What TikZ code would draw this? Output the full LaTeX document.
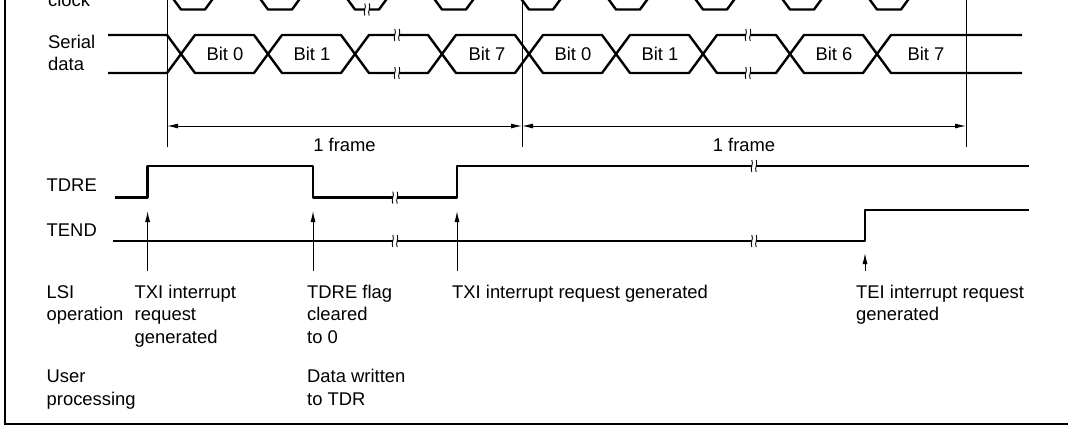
\documentclass[tikz,border=0pt]{standalone}
\usepackage{fontspec}
\setmainfont{Liberation Sans}
\usetikzlibrary{arrows.meta}

\tikzset{
  sig/.style={line width=2.4pt, line join=bevel},
  guide/.style={line width=1pt},
  evt/.style={line width=1pt, -{Latex[length=11pt,width=5pt]}},
  dim/.style={line width=1pt, {Latex[length=11pt,width=5pt]}-{Latex[length=11pt,width=5pt]}},
  lbl/.style={inner sep=0pt, anchor=base west, align=left, font=\fontsize{18.4}{22.5}\selectfont},
  bitlbl/.style={inner sep=0pt, font=\fontsize{18.4}{22.5}\selectfont},
  pics/brk/.style={code={
    \fill[white] (-2.2,-6) rectangle (2.2,6);
    \draw[line width=0.9pt] (-2.2,-6) .. controls (-0.2,-2) and (-4.2,2) .. (-2.2,6);
    \draw[line width=0.9pt] (2.2,-6) .. controls (4.2,-2) and (0.2,2) .. (2.2,6);
  }}
}

\begin{document}
\begin{tikzpicture}[x=1pt,y=-1pt]
  \useasboundingbox (0,0) rectangle (1068,426);
  \clip (0,0) rectangle (1068,426);

  % frame of the figure
  \draw[line width=2pt] (5,-5) -- (5,423.5) -- (1075,423.5);

  % labels on the left (base = last line)
  \node[lbl] (lclock) at (48,6) {clock};
  \node[lbl] (lserial) at (48,70.5) {Serial\\data};
  \node[lbl] (ltdre) at (46.5,191) {TDRE};
  \node[lbl] (ltend) at (46.5,236) {TEND};
  \node[lbl] (llsi) at (46.5,320.5) {LSI\\operation};
  \node[lbl] (luser) at (46.5,405) {User\\processing};

  % serial clock
  \draw[sig] (108,-30) \foreach \c in {193,280,...,889} {
      -- (\c-41,-30) -- (\c-12,9.5) -- (\c+12,9.5) -- (\c+41,-30) } -- (1022,-30);
  \pic at (367,9.5) {brk};

  % serial data
  \draw[sig] (108,35) \foreach \c/\ya/\yb in {181/35/73,268/73/35,355/35/73,442/73/35,
      529/35/73,616/73/35,703/35/73,790/73/35,877/35/73} {
      -- (\c-14,\ya) -- (\c+14,\yb) } -- (1022,73);
  \draw[sig] (108,73) \foreach \c/\ya/\yb in {181/73/35,268/35/73,355/73/35,442/35/73,
      529/73/35,616/35/73,703/73/35,790/35/73,877/73/35} {
      -- (\c-14,\ya) -- (\c+14,\yb) } -- (1022,35);
  \foreach \x/\y in {397/35,397/73,748/35,748/73} \pic at (\x,\y) {brk};

  \node[bitlbl] (b0) at (225,54) {Bit 0};
  \node[bitlbl] (b1) at (312,54) {Bit 1};
  \node[bitlbl] (b7) at (487,54) {Bit 7};
  \node[bitlbl] (b0n) at (573,54) {Bit 0};
  \node[bitlbl] (b1n) at (660,54) {Bit 1};
  \node[bitlbl] (b6n) at (834,54) {Bit 6};
  \node[bitlbl] (b7n) at (926,54) {Bit 7};

  % frame markers
  \coordinate (m0t) at (167,-5);   \coordinate (m0b) at (167,147);
  \coordinate (m1t) at (522,-5);   \coordinate (m1b) at (522,147);
  \coordinate (m2t) at (966,-5);   \coordinate (m2b) at (966,147);
  \draw[guide] (m0t) -- (m0b);
  \draw[guide] (m1t) -- (m1b);
  \draw[guide] (m2t) -- (m2b);
  \coordinate (d0) at (167,126);
  \coordinate (d1) at (522,126);
  \coordinate (d2) at (966,126);
  \draw[dim] (d0) -- (d1);
  \draw[dim] (d1) -- (d2);
  \node[bitlbl, anchor=base] (fr1) at (344.5,151) {1 frame};
  \node[bitlbl, anchor=base] (fr2) at (744,151) {1 frame};

  % TDRE and TEND
  \draw[sig] (115,197.6) -- (147.6,197.6) -- (147.6,166) -- (313,166) -- (313,197.6)
      -- (457,197.6) -- (457,166) -- (1029,166);
  \draw[sig] (113,241) -- (865,241) -- (865,210) -- (1029,210);
  \pic at (395,197.6) {brk};
  \pic at (754,166) {brk};
  \pic at (395,241) {brk};
  \pic at (754,241) {brk};

  % events
  \coordinate (e1) at (147.6,271); \coordinate (e1t) at (147.6,211);
  \coordinate (e2) at (313,271);   \coordinate (e2t) at (313,211);
  \coordinate (e3) at (457,271);   \coordinate (e3t) at (457,211);
  \coordinate (e4) at (865,271);   \coordinate (e4t) at (865,253);
  \draw[evt] (e1) -- (e1t);
  \draw[evt] (e2) -- (e2t);
  \draw[evt] (e3) -- (e3t);
  \draw[evt] (e4) -- (e4t);

  \node[lbl] (ltxi) at (134.5,343) {TXI interrupt\\request\\generated};
  \node[lbl] (lclr) at (307,343) {TDRE flag\\cleared\\to 0};
  \node[lbl] (ltxi2) at (452,298) {TXI interrupt request generated};
  \node[lbl] (ltei) at (856,320.5) {TEI interrupt request\\generated};
  \node[lbl] (lwrite) at (307,405) {Data written\\to TDR};
\end{tikzpicture}
\end{document}
